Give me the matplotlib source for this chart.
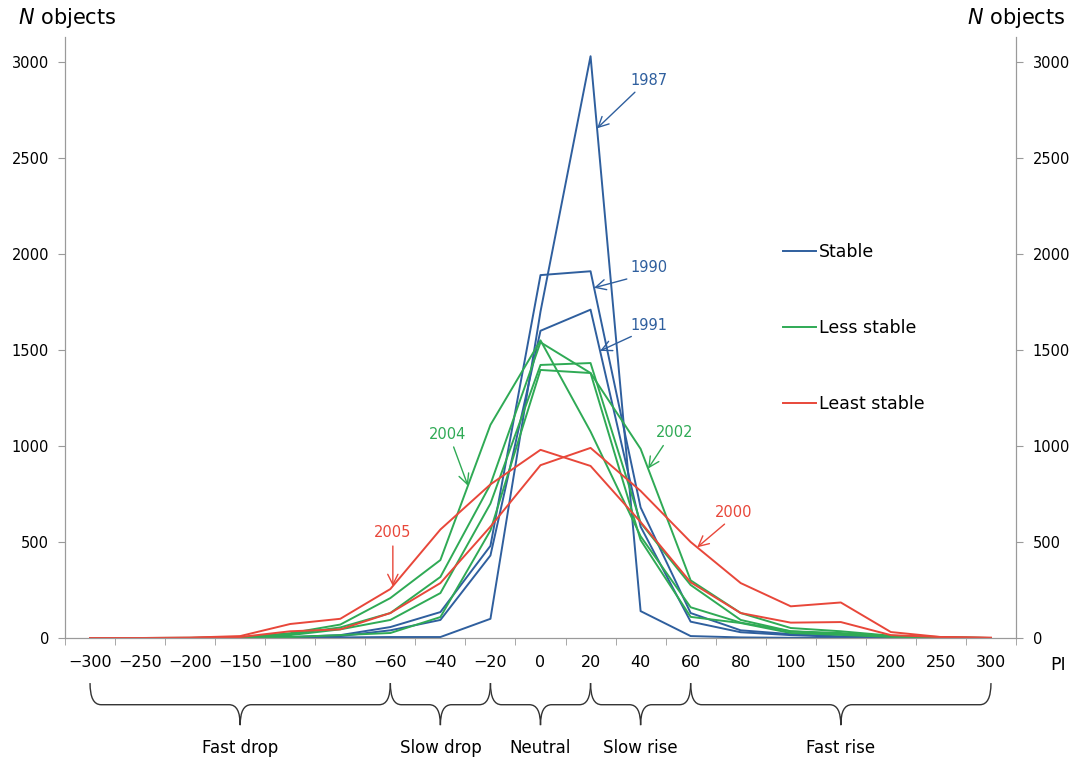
import numpy as np
import matplotlib
matplotlib.use("Agg")
import matplotlib.pyplot as plt
import matplotlib.transforms as mtransforms
from matplotlib.path import Path
from matplotlib.patches import PathPatch

categories = ["\u2212300", "\u2212250", "\u2212200", "\u2212150", "\u2212100", "\u221280", "\u221260",
              "\u221240", "\u221220", "0", "20", "40", "60", "80", "100", "150", "200", "250", "300"]

# Stable years
s1987 = [0, 0, 0, 0, 2, 3, 5, 5, 100, 1700, 3030, 140, 10, 3, 1, 0, 0, 0, 0]
s1990 = [0, 0, 0, 2, 5, 15, 57, 135, 480, 1890, 1910, 680, 130, 40, 20, 8, 3, 1, 0]
s1991 = [0, 0, 0, 1, 3, 10, 40, 94, 430, 1600, 1710, 580, 85, 30, 15, 6, 2, 0, 0]

# Less stable years
g2004 = [0, 0, 1, 3, 25, 70, 208, 406, 1110, 1550, 1075, 530, 160, 80, 35, 20, 8, 2, 0]
g2002 = [0, 0, 0, 2, 20, 55, 130, 318, 800, 1540, 1380, 985, 300, 130, 52, 35, 12, 3, 0]
g_c = [0, 0, 0, 1, 15, 45, 94, 234, 700, 1422, 1432, 600, 276, 94, 35, 26, 10, 2, 0]
g_d = [0, 0, 0, 0, 5, 15, 26, 109, 560, 1396, 1380, 510, 110, 78, 26, 16, 6, 1, 0]

# Least stable years
r2005 = [0, 0, 2, 10, 73, 100, 255, 565, 800, 980, 896, 604, 290, 130, 80, 83, 15, 5, 0]
r2000 = [0, 0, 1, 5, 35, 45, 130, 286, 580, 900, 990, 766, 500, 286, 165, 185, 31, 5, 2]

groups = [("Fast drop", 0, 6), ("Slow drop", 6, 8), ("Neutral", 8, 10),
          ("Slow rise", 10, 12), ("Fast rise", 12, 18)]

BLUE = "#2f5f9e"
GREEN = "#2faa55"
RED = "#e8473a"
GRAY = "#9a9a9a"

fig = plt.figure(figsize=(10.72, 7.64), dpi=100)
ax = fig.add_axes([65 / 1072, 1 - 638 / 764, 951 / 1072, 601 / 764])
x = np.arange(len(categories))

lines_b = [ax.plot(x, v, color=BLUE, lw=1.4)[0] for v in (s1987, s1990, s1991)]
lines_g = [ax.plot(x, v, color=GREEN, lw=1.4)[0] for v in (g2004, g2002, g_c, g_d)]
lines_r = [ax.plot(x, v, color=RED, lw=1.4)[0] for v in (r2005, r2000)]

ax.set_xlim(-0.5, len(categories) - 0.5)
ax.set_ylim(0, 3130)
ax.set_yticks(range(0, 3001, 500))
ax.set_xticks(x)
ax.set_xticklabels(categories)
ax.set_xticks(np.arange(-0.5, len(categories), 1), minor=True)
ax.tick_params(axis="x", which="major", length=0, pad=12, labelsize=11.5)
ax.tick_params(axis="x", which="minor", length=5, color=GRAY)
ax.tick_params(axis="y", length=5, color=GRAY, pad=6.5, labelsize=10.5)

ax2 = ax.twinx()
ax2.set_ylim(ax.get_ylim())
ax2.set_yticks(range(0, 3001, 500))
ax2.tick_params(axis="y", length=5, color=GRAY, pad=7, labelsize=10.5)

for a in (ax, ax2):
    a.spines["top"].set_visible(False)
    for s in ("left", "right", "bottom"):
        a.spines[s].set_color(GRAY)

# year labels with arrows
notes = [
    ("1987", s1987, 10.13, (11.17, 2906), BLUE, (0.25, 0)),
    ("1990", s1990, 10.07, (11.17, 1927), BLUE, (0.25, 0)),
    ("1991", s1991, 10.19, (11.17, 1630), BLUE, (0.25, 0)),
    ("2004", g2004, 7.55, (7.15, 1062), GREEN, (0.6, 0)),
    ("2002", g2002, 11.15, (11.67, 1068), GREEN, (0.3, 0)),
    ("2005", r2005, 6.05, (6.05, 547), RED, (0.5, 0)),
    ("2000", r2000, 12.13, (12.86, 656), RED, (0.4, 0)),
]
for label, vals, tip, txt, col, rp in notes:
    ax.annotate(label, xy=(tip, np.interp(tip, x, vals)), xytext=txt,
                color=col, fontsize=10.5, ha="center", va="center",
                arrowprops=dict(arrowstyle="->,head_length=0.7,head_width=0.35",
                                color=col, lw=1.0, shrinkA=2, shrinkB=0, relpos=rp))

ax.legend([lines_b[0], lines_g[0], lines_r[0]], ["Stable", "Less stable", "Least stable"],
          loc="center left", bbox_to_anchor=(0.755, 0.516), frameon=False, fontsize=12.5,
          handlelength=1.9, handletextpad=0.15, labelspacing=3.35, borderpad=0,
          borderaxespad=0)

# braces under the axis
trans = mtransforms.blended_transform_factory(ax.transData, ax.transAxes)
y_top, y_mid, y_bot = -0.075, -0.111, -0.145
r = 0.22
for name, i0, i1 in groups:
    x0, x1 = i0, i1
    xm = (x0 + x1) / 2
    verts = [(x0, y_top), (x0, y_mid), (x0 + r, y_mid),
             (xm - r, y_mid), (xm, y_mid), (xm, y_bot),
             (xm, y_mid), (xm + r, y_mid),
             (x1 - r, y_mid), (x1, y_mid), (x1, y_top)]
    codes = [Path.MOVETO, Path.CURVE3, Path.CURVE3,
             Path.LINETO, Path.CURVE3, Path.CURVE3,
             Path.CURVE3, Path.CURVE3,
             Path.LINETO, Path.CURVE3, Path.CURVE3]
    ax.add_patch(PathPatch(Path(verts, codes), transform=trans, fill=False,
                           edgecolor="#333333", lw=1.0, clip_on=False))
    ax.text(xm, -0.183, name, transform=trans, ha="center", va="center", fontsize=12)

fig.text(18 / 1072, 1 - 18 / 764, "$\\mathit{N}$ objects", fontsize=15, va="center")
fig.text(967 / 1072, 1 - 18 / 764, "$\\mathit{N}$ objects", fontsize=15, va="center")
fig.text(1050 / 1072, 1 - 665 / 764, "PI", fontsize=12.5, va="center")

fig.savefig("out.png", dpi=100)
